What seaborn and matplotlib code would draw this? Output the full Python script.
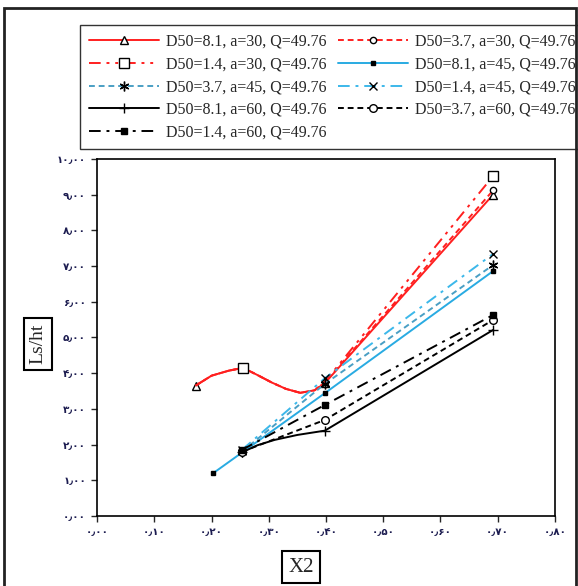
import matplotlib
matplotlib.use('Agg')
import matplotlib.pyplot as plt
import seaborn as sns
import pandas as pd
from matplotlib.patches import Rectangle
from matplotlib.ticker import FuncFormatter, MultipleLocator

sns.set_style('ticks')
plt.rcParams['font.family'] = ['Liberation Serif', 'DejaVu Sans']

# data
x_red = [0.172, 0.20, 0.23, 0.255, 0.28, 0.305, 0.33, 0.355, 0.38, 0.398, 0.692]
y_81_30 = [3.65, 3.93, 4.07, 4.15, 3.95, 3.74, 3.56, 3.45, 3.52, 3.72, 9.00]
y_37_30 = [3.65, 3.93, 4.07, 4.15, 3.95, 3.74, 3.56, 3.45, 3.52, 3.74, 9.12]
y_14_30 = [3.65, 3.93, 4.07, 4.15, 3.95, 3.74, 3.56, 3.45, 3.52, 3.76, 9.52]

x_81_45 = [0.203, 0.398, 0.692]
y_81_45 = [1.20, 3.44, 6.86]
x_45 = [0.253, 0.398, 0.692]
y_37_45 = [1.80, 3.70, 7.03]
y_14_45 = [1.85, 3.86, 7.34]

x_81_60 = [0.253, 0.28, 0.31, 0.35, 0.398, 0.692]
y_81_60 = [1.78, 1.98, 2.13, 2.27, 2.39, 5.21]
x_60 = [0.253, 0.398, 0.692]
y_37_60 = [1.80, 2.69, 5.49]
y_14_60 = [1.85, 3.11, 5.63]

labels = ['D50=8.1, a=30, Q=49.76', 'D50=3.7, a=30, Q=49.76', 'D50=1.4, a=30, Q=49.76',
          'D50=8.1, a=45, Q=49.76', 'D50=3.7, a=45, Q=49.76', 'D50=1.4, a=45, Q=49.76',
          'D50=8.1, a=60, Q=49.76', 'D50=3.7, a=60, Q=49.76', 'D50=1.4, a=60, Q=49.76']

red = '#ff1f1f'
blue = '#29abe2'
teal = '#4a9fc4'
lblue = '#3cb8ea'

series = [
    (x_red, y_81_30, red, '-', '^', [0, 9, 10], 5.5, 'white'),
    (x_red, y_37_30, red, (0, (3, 2)), 'o', [9, 10], 4.5, 'white'),
    (x_red, y_14_30, red, (0, (6, 3, 1.5, 3, 1.5, 3)), 's', [3, 10], 6.5, 'white'),
    (x_81_45, y_81_45, blue, '-', 's', None, 3.5, 'black'),
    (x_45, y_37_45, teal, (0, (3, 2)), (6, 2, 0), None, 7, 'white'),
    (x_45, y_14_45, lblue, (0, (6, 3, 1.5, 3)), 'x', None, 6, 'white'),
    (x_81_60, y_81_60, 'black', '-', '+', [0, 4, 5], 7, 'white'),
    (x_60, y_37_60, 'black', (0, (3, 2)), 'o', None, 5.5, 'white'),
    (x_60, y_14_60, 'black', (0, (6, 3, 1.5, 3)), 's', None, 4.5, 'black'),
]

fig = plt.figure(figsize=(5.78, 5.86), dpi=100)
ax = fig.add_axes([0.168, 0.1195, 0.792, 0.6092])

handles = []
for (xs, ys, col, ls, mk, mev, ms, mfc), lab in zip(series, labels):
    df = pd.DataFrame({'x': xs, 'y': ys})
    sns.lineplot(data=df, x='x', y='y', ax=ax, color=col, linestyle=ls, lw=1.4,
                 marker=mk, markevery=mev, markersize=ms, markerfacecolor=mfc,
                 markeredgecolor='black', markeredgewidth=1.0, label=lab,
                 sort=False, estimator=None)
    handles.append(ax.get_lines()[-1])

ax.set_xlim(0, 0.8)
ax.set_ylim(0, 10)
ax.xaxis.set_major_locator(MultipleLocator(0.1))
ax.yaxis.set_major_locator(MultipleLocator(1))

fa = str.maketrans('0123456789.', '۰۱۲۳۴۵۶۷۸۹٫')
fmt = FuncFormatter(lambda v, p: ('%.2f' % v).translate(fa))
ax.xaxis.set_major_formatter(fmt)
ax.yaxis.set_major_formatter(fmt)
ax.tick_params(direction='out', length=4, width=1, pad=4, labelsize=7.5, labelcolor='#1c1c50')
for t in ax.get_xticklabels() + ax.get_yticklabels():
    t.set_family('DejaVu Sans')
    t.set_fontweight('bold')
for s in ax.spines.values():
    s.set_linewidth(1.2)
    s.set_color('black')
ax.set_xlabel('')
ax.set_ylabel('')

order = [0, 2, 4, 6, 8, 1, 3, 5, 7]
leg = ax.legend([handles[i] for i in order], [labels[i] for i in order], ncol=2,
                loc='upper left', bbox_to_anchor=(80 / 578, 1 - 25 / 586),
                bbox_transform=fig.transFigure, fontsize=11.5, frameon=True,
                fancybox=False, edgecolor='black', handlelength=4.4,
                handletextpad=0.45, columnspacing=0.7, labelspacing=0.42,
                borderpad=0.55, borderaxespad=0)
leg.get_frame().set_linewidth(1.0)

box = dict(boxstyle='square,pad=0.3', fc='white', ec='black', lw=1.5)
fig.text(38 / 578, 1 - 344 / 586, 'Ls/ht', rotation=90, ha='center', va='center',
         fontsize=14, bbox=box)
fig.text(301 / 578, 1 - 567 / 586, 'X2', ha='center', va='center', fontsize=15, bbox=box)

fig.patches.append(Rectangle((4 / 578, -0.05), 572 / 578, 1.05 - 8 / 586,
                             transform=fig.transFigure, fill=False, ec='#222222', lw=2))

fig.savefig('out.png', dpi=100)
